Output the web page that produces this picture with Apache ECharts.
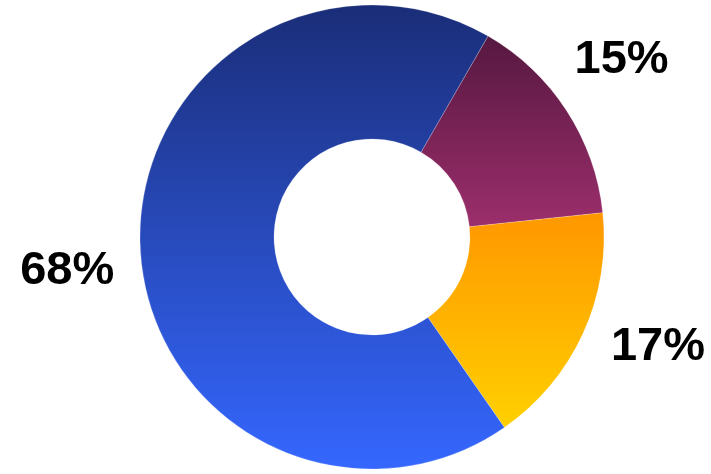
<!DOCTYPE html>
<html>
<head>
<meta charset="utf-8">
<script src="https://cdn.jsdelivr.net/npm/echarts@6/dist/echarts.min.js"></script>
<style>
  html, body { margin: 0; padding: 0; background: #ffffff; }
  #chart { width: 711px; height: 474px; }
</style>
</head>
<body>
<div id="chart"></div>
<script>
// Share of each segment (percent), listed clockwise from the top-right
const segments = ['A', 'B', 'C'];
const shares = [15, 17, 68];
const labels = ['15%', '17%', '68%'];

// Vertical gradient stops (top colour, bottom colour) for each segment
const gradientTop = ['#561840', '#ff9700', '#1a2d78'];
const gradientBottom = ['#9c2e6c', '#ffd000', '#3567ff'];

// Nudge of each percentage label away from its default outside spot
const labelShiftX = [3, 23, -21];
const labelShiftY = [-51, 13, 24];

const chart = echarts.init(document.getElementById('chart'));

const data = segments.map((name, i) => ({
  name: name,
  value: shares[i],
  label: { formatter: labels[i] },
  itemStyle: {
    color: new echarts.graphic.LinearGradient(0, 0, 0, 1, [
      { offset: 0, color: gradientTop[i] },
      { offset: 1, color: gradientBottom[i] }
    ])
  }
}));

chart.setOption({
  animation: false,
  series: [{
    type: 'pie',
    center: [372, 237],
    radius: [98, 232],
    startAngle: 60,
    clockwise: true,
    avoidLabelOverlap: false,
    itemStyle: { borderColor: 'rgba(255,255,255,0.35)', borderWidth: 0.6 },
    label: {
      show: true,
      position: 'outside',
      distance: 10,
      color: '#000',
      fontFamily: 'Liberation Sans',
      fontWeight: 'bold',
      fontSize: 47
    },
    labelLine: { show: false, length: 0, length2: 0 },
    labelLayout: function (params) {
      return { dx: labelShiftX[params.dataIndex], dy: labelShiftY[params.dataIndex] };
    },
    data: data
  }]
});
</script>
</body>
</html>
